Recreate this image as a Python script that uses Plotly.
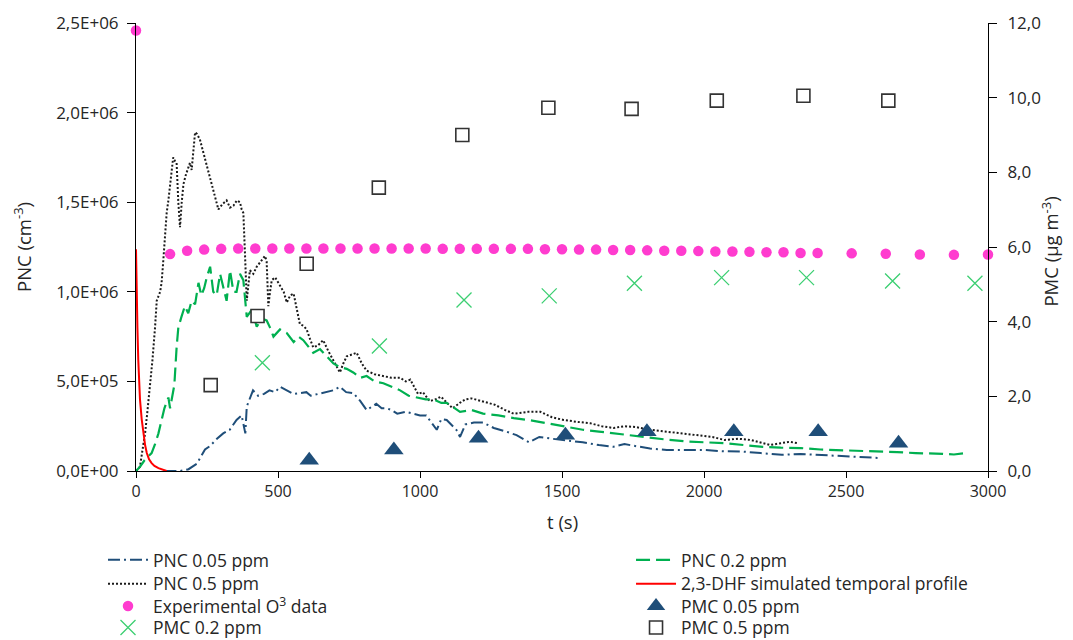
import plotly.graph_objects as go

# ---------------- data ----------------
t_pnc005 = [100, 155, 185, 214, 243, 261, 285, 307, 330, 354, 372, 385, 390, 400, 412, 430, 451, 470, 490, 507,
            530, 555, 577, 600, 615, 640, 665, 694, 718, 740, 765, 790, 812, 830, 846, 865, 883, 900, 920, 950,
            977, 1000, 1022, 1040, 1059, 1075, 1094, 1128, 1141, 1160, 1190, 1222, 1260, 1303, 1340, 1384, 1420,
            1465, 1520, 1573, 1630, 1681, 1720, 1761, 1810, 1869, 1940, 2004, 2070, 2139, 2200, 2274, 2340, 2408,
            2480, 2543, 2624]
pnc005 = [0, 0, 0.01e6, 0.04e6, 0.12e6, 0.14e6, 0.18e6, 0.21e6, 0.23e6, 0.285e6, 0.31e6, 0.21e6, 0.36e6, 0.40e6,
          0.45e6, 0.42e6, 0.43e6, 0.45e6, 0.44e6, 0.47e6, 0.45e6, 0.43e6, 0.435e6, 0.44e6, 0.42e6, 0.43e6, 0.44e6,
          0.45e6, 0.47e6, 0.44e6, 0.435e6, 0.39e6, 0.34e6, 0.36e6, 0.375e6, 0.35e6, 0.35e6, 0.34e6, 0.32e6, 0.33e6,
          0.32e6, 0.31e6, 0.31e6, 0.27e6, 0.23e6, 0.29e6, 0.285e6, 0.23e6, 0.19e6, 0.26e6, 0.27e6, 0.27e6, 0.24e6,
          0.22e6, 0.20e6, 0.16e6, 0.19e6, 0.18e6, 0.17e6, 0.16e6, 0.145e6, 0.135e6, 0.15e6, 0.14e6, 0.125e6,
          0.117e6, 0.115e6, 0.117e6, 0.11e6, 0.108e6, 0.10e6, 0.09e6, 0.095e6, 0.09e6, 0.085e6, 0.08e6, 0.072e6]

t_pnc02 = [0, 14, 30, 55, 67, 79, 100, 114, 120, 135, 143, 149, 160, 172, 184, 196, 208, 220, 230, 240, 249,
           261, 272, 284, 296, 308, 319, 331, 343, 354, 366, 378, 390, 408, 425, 443, 460, 472, 484, 507, 531,
           555, 572, 589, 605, 624, 648, 671, 695, 718, 742, 765, 790, 812, 840, 871, 900, 930, 960, 989, 1020,
           1047, 1075, 1094, 1141, 1182, 1222, 1276, 1330, 1400, 1465, 1520, 1573, 1630, 1681, 1740, 1802, 1870,
           1937, 2000, 2072, 2140, 2207, 2270, 2341, 2410, 2476, 2540, 2611, 2680, 2745, 2800, 2840, 2880, 2921]
pnc02 = [0, 0.024e6, 0.06e6, 0.10e6, 0.15e6, 0.21e6, 0.35e6, 0.41e6, 0.35e6, 0.48e6, 0.69e6, 0.80e6, 0.86e6,
         0.92e6, 0.88e6, 0.95e6, 0.93e6, 1.05e6, 0.98e6, 1.02e6, 1.08e6, 1.14e6, 1.0e6, 0.98e6, 1.10e6, 1.02e6,
         0.95e6, 1.12e6, 1.0e6, 1.0e6, 1.10e6, 1.065e6, 0.86e6, 0.90e6, 0.805e6, 0.85e6, 0.84e6, 0.80e6, 0.75e6,
         0.79e6, 0.77e6, 0.72e6, 0.75e6, 0.73e6, 0.70e6, 0.66e6, 0.68e6, 0.64e6, 0.60e6, 0.58e6, 0.57e6, 0.55e6,
         0.52e6, 0.53e6, 0.50e6, 0.49e6, 0.47e6, 0.45e6, 0.42e6, 0.41e6, 0.40e6, 0.40e6, 0.38e6, 0.38e6, 0.33e6,
         0.34e6, 0.32e6, 0.31e6, 0.295e6, 0.28e6, 0.26e6, 0.245e6, 0.23e6, 0.22e6, 0.21e6, 0.20e6, 0.185e6,
         0.175e6, 0.165e6, 0.16e6, 0.155e6, 0.145e6, 0.135e6, 0.13e6, 0.128e6, 0.12e6, 0.117e6, 0.112e6, 0.108e6,
         0.105e6, 0.10e6, 0.10e6, 0.096e6, 0.092e6, 0.10e6]

t_pnc05 = [0, 14, 26, 32, 40, 49, 58, 67, 73, 85, 90, 95, 102, 108, 114, 122, 131, 137, 143, 149, 155, 161, 167,
           175, 184, 190, 196, 202, 208, 215, 225, 240, 261, 275, 290, 305, 319, 331, 343, 355, 366, 372, 378,
           384, 390, 401, 413, 425, 440, 454, 460, 466, 472, 478, 490, 507, 520, 531, 543, 555, 566, 577, 590,
           601, 612, 624, 640, 659, 677, 695, 707, 718, 730, 742, 760, 777, 795, 812, 840, 871, 900, 930, 950,
           966, 980, 993, 1010, 1034, 1055, 1074, 1095, 1115, 1140, 1160, 1182, 1220, 1263, 1300, 1330, 1380,
           1424, 1465, 1505, 1550, 1600, 1640, 1681, 1720, 1761, 1810, 1869, 1920, 1977, 2030, 2072, 2120, 2166,
           2200, 2233, 2270, 2301, 2330]
pnc05 = [0, 0.024e6, 0.15e6, 0.21e6, 0.33e6, 0.47e6, 0.62e6, 0.80e6, 0.95e6, 1.0e6, 1.05e6, 1.15e6, 1.33e6,
         1.44e6, 1.51e6, 1.62e6, 1.75e6, 1.73e6, 1.72e6, 1.5e6, 1.36e6, 1.5e6, 1.6e6, 1.65e6, 1.70e6, 1.72e6,
         1.68e6, 1.80e6, 1.89e6, 1.88e6, 1.85e6, 1.76e6, 1.64e6, 1.55e6, 1.46e6, 1.49e6, 1.51e6, 1.47e6, 1.48e6,
         1.51e6, 1.50e6, 1.46e6, 1.44e6, 1.2e6, 0.95e6, 1.12e6, 1.1e6, 1.14e6, 1.17e6, 1.2e6, 1.17e6, 0.92e6,
         1.0e6, 1.065e6, 1.08e6, 1.03e6, 1.0e6, 0.94e6, 0.98e6, 0.99e6, 0.9e6, 0.82e6, 0.81e6, 0.79e6, 0.74e6,
         0.69e6, 0.70e6, 0.73e6, 0.67e6, 0.62e6, 0.58e6, 0.55e6, 0.60e6, 0.64e6, 0.65e6, 0.66e6, 0.60e6, 0.56e6,
         0.54e6, 0.53e6, 0.52e6, 0.52e6, 0.50e6, 0.51e6, 0.47e6, 0.43e6, 0.44e6, 0.39e6, 0.40e6, 0.415e6, 0.38e6,
         0.35e6, 0.38e6, 0.40e6, 0.405e6, 0.39e6, 0.37e6, 0.34e6, 0.32e6, 0.33e6, 0.33e6, 0.30e6, 0.285e6,
         0.275e6, 0.266e6, 0.25e6, 0.24e6, 0.25e6, 0.245e6, 0.23e6, 0.22e6, 0.21e6, 0.20e6, 0.19e6, 0.173e6,
         0.18e6, 0.173e6, 0.16e6, 0.145e6, 0.155e6, 0.163e6, 0.155e6]

t_dhf = [0, 1, 2, 5, 8, 11, 14, 20, 26, 32, 38, 46, 55, 65, 79, 95, 108]
dhf = [1.237e6, 1.10e6, 0.99e6, 0.80e6, 0.62e6, 0.50e6, 0.40e6, 0.29e6, 0.21e6, 0.145e6, 0.10e6, 0.065e6,
       0.044e6, 0.028e6, 0.016e6, 0.006e6, 0.0]

t_o3 = [0, 120, 180, 240, 300, 360, 420, 480, 540, 600, 660, 720, 780, 840, 900, 960, 1020, 1080, 1140, 1200,
        1260, 1320, 1380, 1440, 1500, 1560, 1620, 1680, 1740, 1800, 1860, 1920, 1980, 2040, 2100, 2160, 2220,
        2280, 2340, 2400, 2520, 2640, 2760, 2880, 3000]
o3 = [11.8, 5.81, 5.9, 5.93, 5.95, 5.96, 5.96, 5.96, 5.96, 5.96, 5.96, 5.96, 5.96, 5.96, 5.96, 5.96, 5.96, 5.95,
      5.95, 5.95, 5.95, 5.95, 5.95, 5.94, 5.94, 5.93, 5.93, 5.92, 5.92, 5.91, 5.90, 5.90, 5.89, 5.88, 5.88, 5.87,
      5.86, 5.86, 5.84, 5.84, 5.83, 5.82, 5.80, 5.79, 5.80]

t_pmc005 = [610, 908, 1206, 1512, 1799, 2105, 2402, 2685]
pmc005 = [0.29, 0.56, 0.875, 0.96, 1.05, 1.05, 1.05, 0.74]

t_pmc02 = [445, 857, 1155, 1455, 1755, 2062, 2361, 2664, 2954]
pmc02 = [2.9, 3.35, 4.58, 4.69, 5.03, 5.18, 5.18, 5.09, 5.03]

t_pmc05 = [263, 428, 601, 855, 1149, 1452, 1745, 2045, 2350, 2649]
pmc05 = [2.30, 4.15, 5.55, 7.59, 9.0, 9.73, 9.70, 9.92, 10.05, 9.92]

left_tickvals = [0, 0.5e6, 1.0e6, 1.5e6, 2.0e6, 2.5e6]
left_ticktext = ["0,0E+00", "5,0E+05", "1,0E+06", "1,5E+06", "2,0E+06", "2,5E+06"]
right_tickvals = [0, 2, 4, 6, 8, 10, 12]
right_ticktext = ["0,0", "2,0", "4,0", "6,0", "8,0", "10,0", "12,0"]
x_tickvals = [0, 500, 1000, 1500, 2000, 2500, 3000]

left_title = "PNC (cm<sup>-3</sup>)"
right_title = "PMC (µg m<sup>-3</sup>)"
x_title = "t (s)"

# ---------------- figure ----------------
FONT = "'Open Sans', Carlito, Calibri, sans-serif"
TXT = "#262626"
BLUE = "#1F4E79"
GREEN = "#00B050"
LGREEN = "#3CCF72"
PINK = "#FF3CCF"

fig = go.Figure()

# column 1
fig.add_trace(go.Scatter(x=t_pnc005, y=pnc005, mode="lines", name="PNC 0.05 ppm",
                         line=dict(color=BLUE, width=2, dash="12px,4px,2px,4px"), legend="legend"))
fig.add_trace(go.Scatter(x=t_pnc05, y=pnc05, mode="lines", name="PNC 0.5 ppm",
                         line=dict(color="#1a1a1a", width=2, dash="2px,2px"), legend="legend2"))
fig.add_trace(go.Scatter(x=t_o3, y=o3, mode="markers", name="Experimental O<sup>3</sup> data", yaxis="y2",
                         marker=dict(color=PINK, size=10.5, symbol="circle"), cliponaxis=False, legend="legend3"))
fig.add_trace(go.Scatter(x=t_pmc02, y=pmc02, mode="markers", name="PMC 0.2 ppm", yaxis="y2",
                         marker=dict(color=LGREEN, size=15, symbol="x-thin-open",
                                     line=dict(color=LGREEN, width=1.3)),
                         cliponaxis=False, legend="legend4"))

# column 2
fig.add_trace(go.Scatter(x=t_pnc02, y=pnc02, mode="lines", name="PNC 0.2 ppm",
                         line=dict(color=GREEN, width=2.2, dash="14px,6px"), legend="legend5"))
fig.add_trace(go.Scatter(x=t_dhf, y=dhf, mode="lines", name="2,3-DHF simulated temporal profile",
                         line=dict(color="#FF0000", width=2), legend="legend6"))
fig.add_trace(go.Scatter(x=t_pmc005, y=pmc005, mode="markers", name="PMC 0.05 ppm", yaxis="y2",
                         marker=dict(color=BLUE, size=17, symbol="triangle-up"), cliponaxis=False,
                         legend="legend7"))
fig.add_trace(go.Scatter(x=t_pmc05, y=pmc05, mode="markers", name="PMC 0.5 ppm", yaxis="y2",
                         marker=dict(color="white", size=13, symbol="square",
                                     line=dict(color="#333333", width=1.6)),
                         cliponaxis=False, legend="legend8"))

legend_common = dict(orientation="v", yanchor="middle", xanchor="left", tracegroupgap=0,
                     xref="container", yref="container",
                     font=dict(family=FONT, size=17.5, color=TXT), bgcolor="rgba(0,0,0,0)",
                     itemwidth=40)

col_x = [0.0892, 0.5850]
row_y = [0.1266, 0.0890, 0.0535, 0.0195]
legend_layout = {}
names = ["legend", "legend2", "legend3", "legend4", "legend5", "legend6", "legend7", "legend8"]
for i, nm in enumerate(names):
    legend_layout[nm] = dict(x=col_x[i // 4], y=row_y[i % 4], **legend_common)

title_font = dict(family=FONT, size=18.5, color=TXT)
tick_font = dict(family=FONT, size=17, color=TXT)

# page has an 8px body margin, so the figure is 8px smaller than the window
fig.update_layout(
    width=1065, height=632,
    margin=dict(l=128, r=85, t=15, b=169, autoexpand=False),
    paper_bgcolor="white", plot_bgcolor="white",
    font=dict(family=FONT, size=16, color=TXT),
    showlegend=True,
    **legend_layout,
    xaxis=dict(range=[0, 3000], tickvals=x_tickvals, ticks="outside", ticklen=6, tickcolor="black",
               showline=True, linecolor="black", linewidth=1, showgrid=False, zeroline=False,
               automargin=False, tickfont=dict(family=FONT, size=16, color=TXT)),
    yaxis=dict(range=[0, 2.5e6], tickvals=left_tickvals, ticktext=left_ticktext, ticks="outside",
               ticklen=8, tickcolor="black", showline=True, linecolor="black", linewidth=1,
               showgrid=False, zeroline=False, automargin=False, ticklabelstandoff=5,
               tickfont=tick_font),
    yaxis2=dict(range=[0, 12], tickvals=right_tickvals, ticktext=right_ticktext, overlaying="y",
                side="right", ticks="outside", ticklen=8, tickcolor="black", showline=True,
                linecolor="black", linewidth=1, showgrid=False, zeroline=False, automargin=False,
                ticklabelstandoff=7, tickfont=tick_font),
    annotations=[
        dict(text=left_title, xref="paper", yref="paper", x=-0.1338, y=0.5, xanchor="center",
             yanchor="middle", textangle=-90, showarrow=False, font=title_font),
        dict(text=right_title, xref="paper", yref="paper", x=1.0728, y=0.49, xanchor="center",
             yanchor="middle", textangle=-90, showarrow=False, font=title_font),
        dict(text=x_title, xref="paper", yref="paper", x=0.5, y=-0.112, xanchor="center",
             yanchor="middle", showarrow=False, font=title_font),
    ],
)

fig.write_html("out.html")
